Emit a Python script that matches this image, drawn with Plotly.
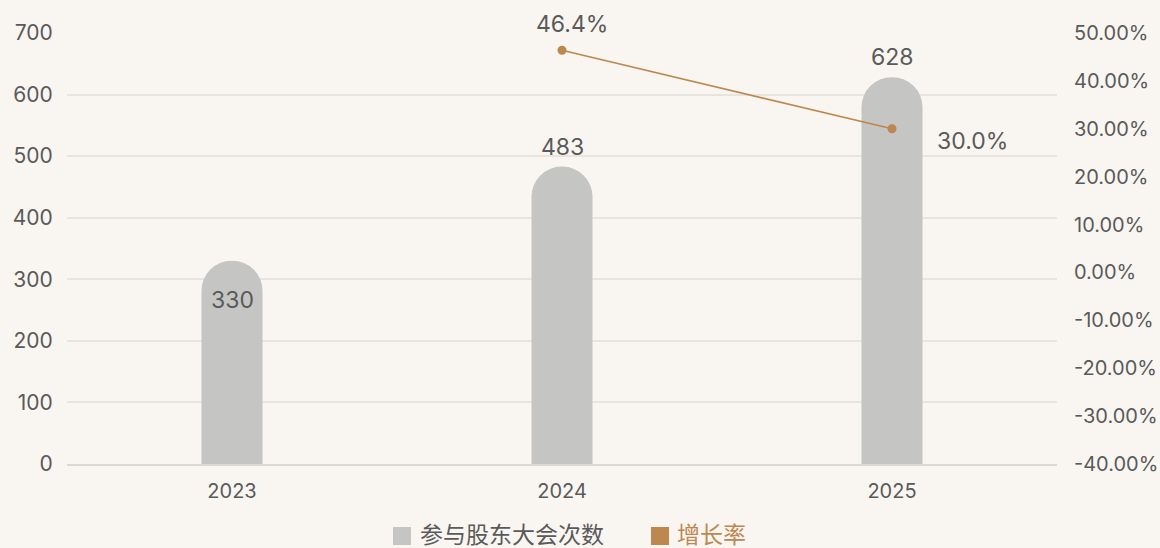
import plotly.graph_objects as go

years = ["2023", "2024", "2025"]
meetings = [330, 483, 628]
growth_years = ["2024", "2025"]
growth = [0.464, 0.300]
left_ticks = [0, 100, 200, 300, 400, 500, 600, 700]
right_ticks = [-0.4, -0.3, -0.2, -0.1, 0.0, 0.1, 0.2, 0.3, 0.4, 0.5]
right_labels = ["-40.00%", "-30.00%", "-20.00%", "-10.00%", "0.00%",
                "10.00%", "20.00%", "30.00%", "40.00%", "50.00%"]
series_names = ["参与股东大会次数", "增长率"]

BG = "#F9F6F2"
GRAY_TXT = "#5A5A5A"
BAR = "#C5C6C4"
LINE = "#BE874F"
FONT = "Inter, Noto Sans CJK SC, sans-serif"

ML, MR, MT, MB = 67, 103, 33, 84
PW = 1160 - ML - MR
PH = 548 - MT - MB


def px(x):
    return (x - ML) / PW


def py(y):
    return (548 - MB - y) / PH


fig = go.Figure()
fig.add_trace(go.Bar(
    x=years, y=meetings, name=series_names[0],
    marker=dict(color=BAR, cornerradius="50%", line=dict(width=0)),
    width=0.185, showlegend=False,
))
fig.add_trace(go.Scatter(
    x=growth_years, y=growth, yaxis="y2", mode="lines+markers",
    line=dict(color=LINE, width=1.6), marker=dict(color=LINE, size=9),
    showlegend=False, name=series_names[1],
))

annos = []
bar_shift = [-39, 20, 20]
for x, v, s in zip(years, meetings, bar_shift):
    annos.append(dict(x=years.index(x), y=v, xref="x", yref="y", text=str(v), showarrow=False,
                      yanchor="middle", yshift=s,
                      font=dict(size=23, color=GRAY_TXT, family=FONT)))
g_shift = [(10, 26), (80, -12)]
for x, v, (dx, dy) in zip(growth_years, growth, g_shift):
    annos.append(dict(x=years.index(x), y=v, xref="x", yref="y2", text=f"{v*100:.1f}%",
                      showarrow=False, yanchor="middle", xshift=dx, yshift=dy,
                      font=dict(size=23, color=GRAY_TXT, family=FONT)))

# manual legend (square swatches + text)
shapes = []
legend_items = [(series_names[0], BAR, GRAY_TXT, 393, 411, 419),
                (series_names[1], LINE, LINE, 651, 669, 676)]
for name, sw, tc, x0, x1, tx in legend_items:
    shapes.append(dict(type="rect", xref="paper", yref="paper", x0=px(x0), x1=px(x1),
                       y0=py(527), y1=py(545), fillcolor=sw, line=dict(width=0)))
    annos.append(dict(x=px(tx), y=py(535), xref="paper", yref="paper", text=name,
                      showarrow=False, xanchor="left", yanchor="middle",
                      borderpad=0, font=dict(size=23, color=tc, family=FONT)))

fig.update_layout(
    width=1160, height=548,
    paper_bgcolor=BG, plot_bgcolor=BG,
    margin=dict(l=ML, r=MR, t=MT, b=MB, autoexpand=False),
    font=dict(family=FONT, color=GRAY_TXT, size=21),
    showlegend=False,
    xaxis=dict(
        type="category", categoryorder="array", categoryarray=years,
        range=[-0.5, len(years) - 0.5], automargin=False,
        showgrid=False, showline=True, linecolor="#DCD9D5", linewidth=2,
        ticks="outside", ticklen=8, tickcolor="rgba(0,0,0,0)",
        tickfont=dict(size=20, color=GRAY_TXT), zeroline=False,
    ),
    yaxis=dict(
        range=[0, 700], tickvals=left_ticks, showgrid=True, gridcolor="#E8E5E1", gridwidth=2,
        zeroline=False, showline=False, automargin=False,
        ticks="outside", ticklen=9, tickcolor="rgba(0,0,0,0)",
        tickfont=dict(size=21, color=GRAY_TXT),
    ),
    yaxis2=dict(
        overlaying="y", side="right", range=[-0.4, 0.5], tickvals=right_ticks,
        ticktext=right_labels, showgrid=False, zeroline=False, showline=False,
        automargin=False,
        ticks="outside", ticklen=12, tickcolor="rgba(0,0,0,0)",
        tickfont=dict(size=20, color=GRAY_TXT),
    ),
    shapes=shapes,
    annotations=annos,
)

fig.write_html("out.html", config={"displayModeBar": False},
               post_script="document.body.style.margin='0';")
